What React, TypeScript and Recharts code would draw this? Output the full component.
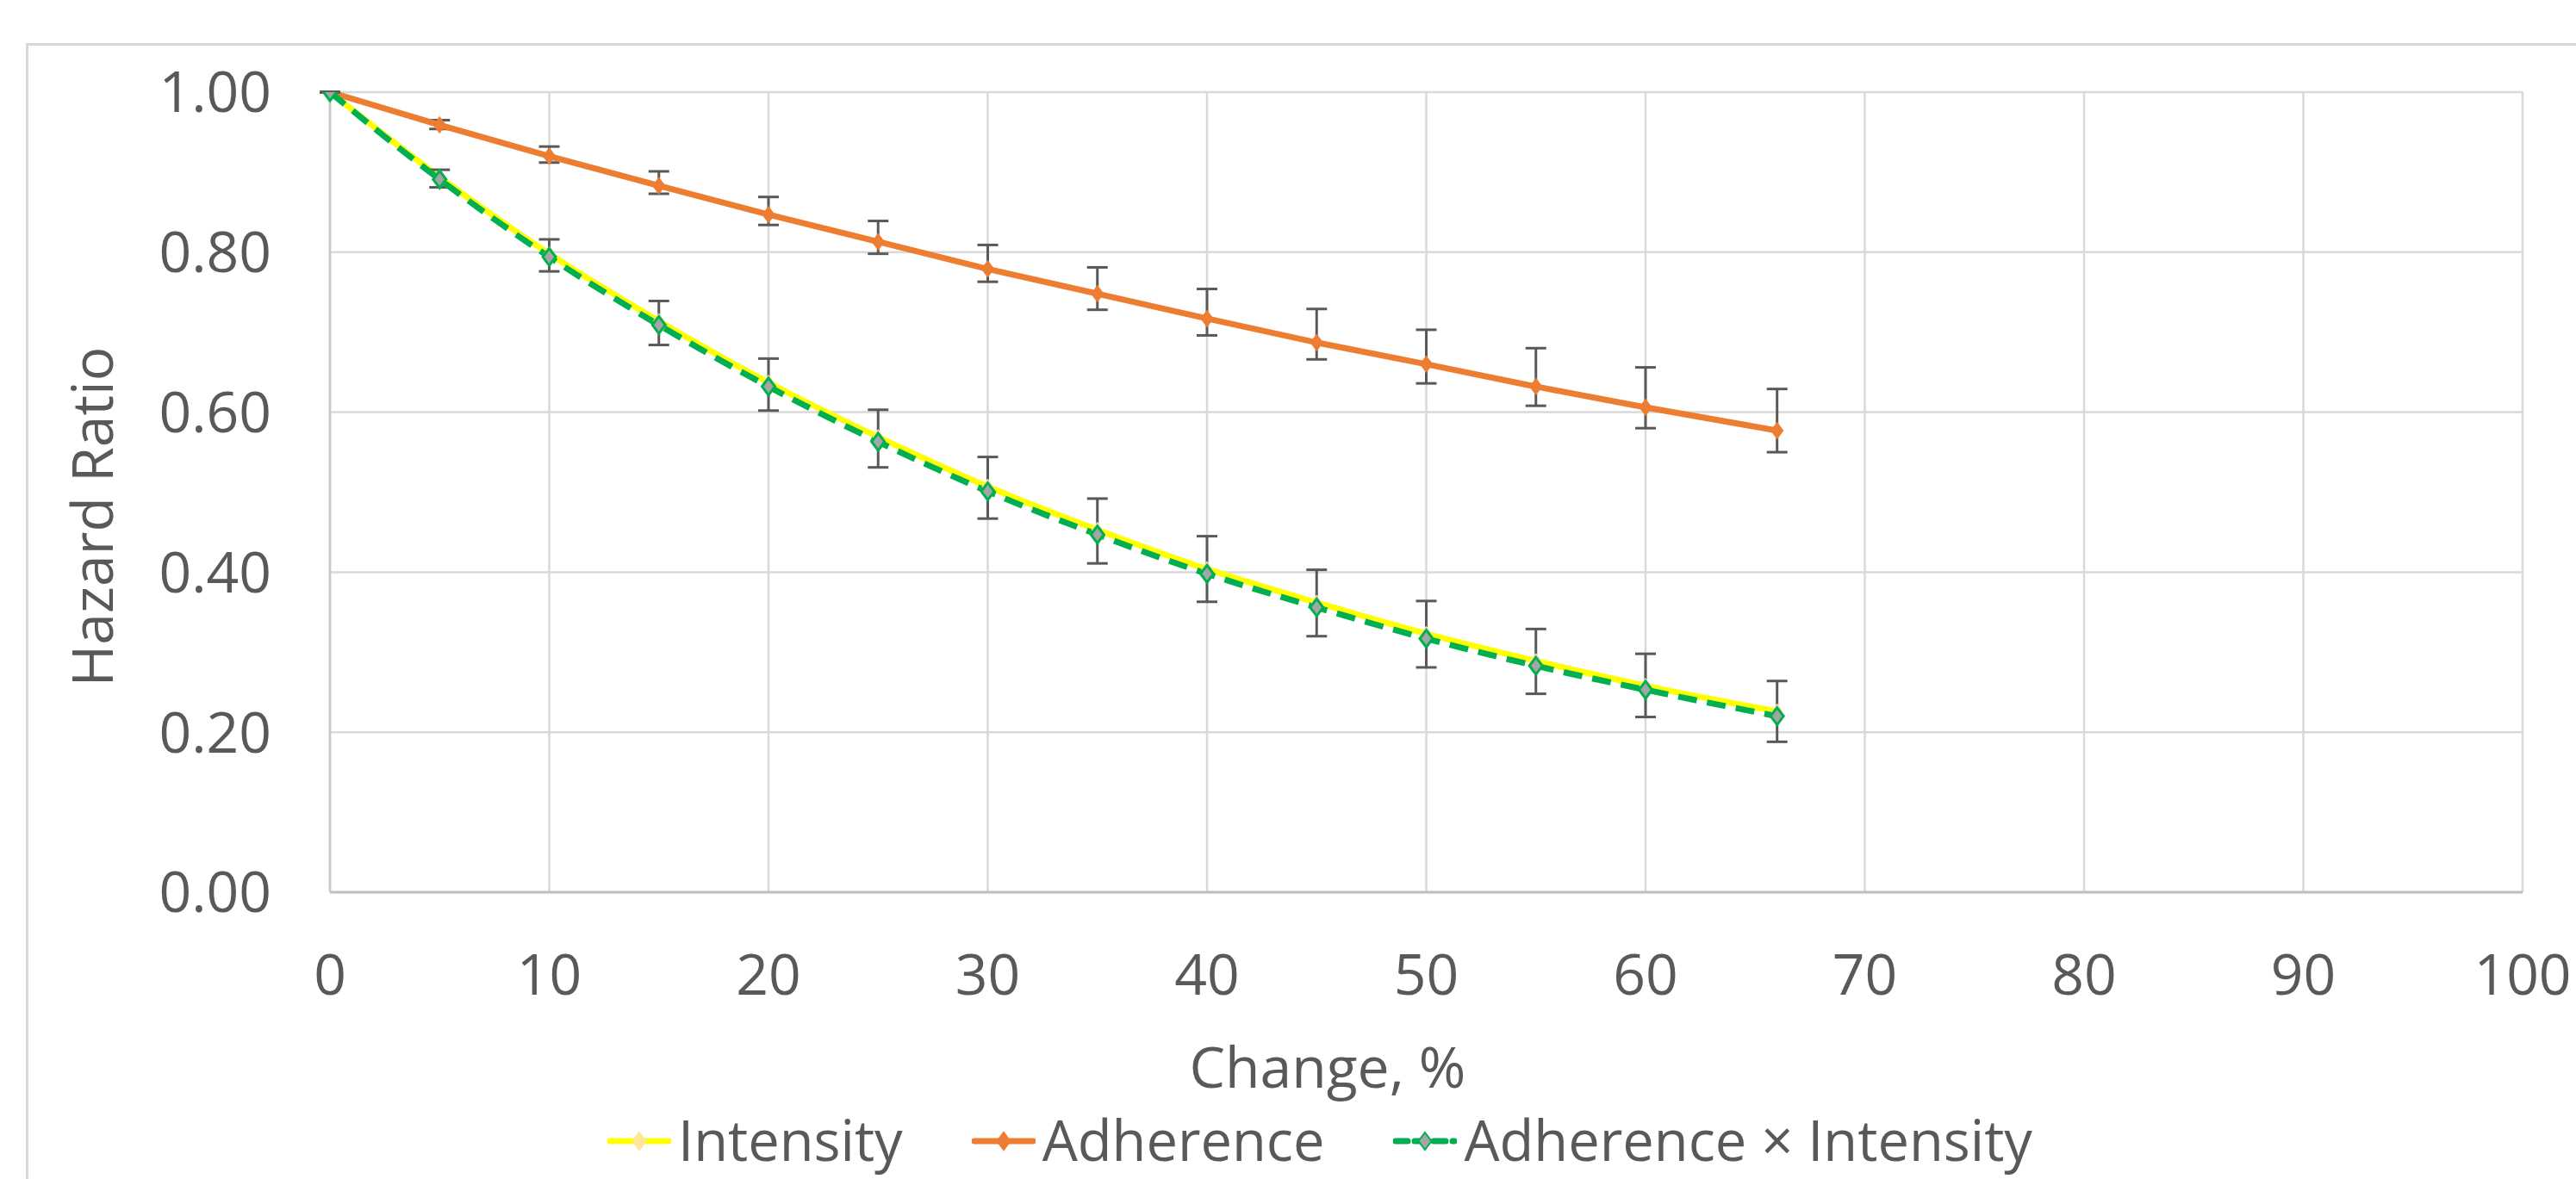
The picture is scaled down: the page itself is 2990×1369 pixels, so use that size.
import React from 'react';
import {
  LineChart,
  Line,
  XAxis,
  YAxis,
  CartesianGrid,
  Legend,
  ErrorBar,
} from 'recharts';

// Change, % (x positions of the points)
const changePct = [0, 5, 10, 15, 20, 25, 30, 35, 40, 45, 50, 55, 60, 66];

// Hazard ratios
const intensityHR = [1.0, 0.894, 0.798, 0.714, 0.637, 0.569, 0.507, 0.453, 0.404, 0.362, 0.323, 0.289, 0.258, 0.226];
const adherenceHR = [1.0, 0.959, 0.92, 0.883, 0.847, 0.813, 0.779, 0.748, 0.717, 0.687, 0.66, 0.632, 0.606, 0.577];
const adherenceLow = [1.0, 0.954, 0.912, 0.873, 0.834, 0.798, 0.763, 0.728, 0.696, 0.666, 0.636, 0.608, 0.58, 0.55];
const adherenceHigh = [1.0, 0.965, 0.932, 0.901, 0.869, 0.839, 0.809, 0.781, 0.754, 0.729, 0.703, 0.68, 0.656, 0.629];
const comboHR = [1.0, 0.891, 0.794, 0.709, 0.632, 0.563, 0.501, 0.447, 0.398, 0.356, 0.317, 0.283, 0.253, 0.22];
const comboLow = [1.0, 0.881, 0.776, 0.684, 0.602, 0.531, 0.467, 0.411, 0.363, 0.32, 0.281, 0.248, 0.219, 0.188];
const comboHigh = [1.0, 0.903, 0.816, 0.739, 0.667, 0.603, 0.544, 0.492, 0.445, 0.403, 0.364, 0.329, 0.298, 0.264];

const xTicks = [0, 10, 20, 30, 40, 50, 60, 70, 80, 90, 100];
const yTicks = [0, 0.2, 0.4, 0.6, 0.8, 1.0];

const seriesNames = ['Intensity', 'Adherence', 'Adherence × Intensity'];

const FONT = "'Open Sans', sans-serif";
const TEXT = '#595959';
const GRID = '#d9d9d9';

const YELLOW = '#ffff00';
const ORANGE = '#ed7d31';
const GREEN = '#00b050';

// error bars want [below, above] deltas
const data = changePct.map((x, i) => ({
  x,
  intensity: intensityHR[i],
  adherence: adherenceHR[i],
  adherenceErr: [
    +(adherenceHR[i] - adherenceLow[i]).toFixed(3),
    +(adherenceHigh[i] - adherenceHR[i]).toFixed(3),
  ],
  combo: comboHR[i],
  comboErr: [
    +(comboHR[i] - comboLow[i]).toFixed(3),
    +(comboHigh[i] - comboHR[i]).toFixed(3),
  ],
}));

const diamondPath = (cx: number, cy: number, r: number) =>
  `M${cx},${cy - r}L${cx + r * 0.75},${cy}L${cx},${cy + r}L${cx - r * 0.75},${cy}Z`;

const makeDot = (fill: string, stroke: string, r: number, sw: number) => (props: any) => {
  const { cx, cy, index } = props;
  if (cx == null || cy == null) return <g key={`e-${index}`} />;
  return (
    <path
      key={`d-${index}`}
      d={diamondPath(cx, cy, r)}
      fill={fill}
      stroke={stroke}
      strokeWidth={sw}
    />
  );
};

const legendItems = [
  { name: seriesNames[0], color: YELLOW, fill: '#ffe699', stroke: '#ffe699', dash: undefined },
  { name: seriesNames[1], color: ORANGE, fill: ORANGE, stroke: ORANGE, dash: undefined },
  { name: seriesNames[2], color: GREEN, fill: '#a5a5a5', stroke: GREEN, dash: '14 8' },
];

const renderLegend = () => (
  <div style={{ display: 'flex', alignItems: 'center', fontFamily: FONT, fontSize: 65, color: TEXT }}>
    {legendItems.map((it, i) => (
      <div
        key={it.name}
        style={{ display: 'flex', alignItems: 'center', marginLeft: i === 0 ? 0 : 80 }}
      >
        <svg width={74} height={30} style={{ marginRight: 8 }}>
          <line
            x1={3}
            y1={15}
            x2={71}
            y2={15}
            stroke={it.color}
            strokeWidth={7}
            strokeLinecap="round"
            strokeDasharray={it.dash}
          />
          <path d={diamondPath(37, 15, 10)} fill={it.fill} stroke={it.stroke} strokeWidth={2} />
        </svg>
        <span style={{ lineHeight: '66px', position: 'relative', top: -2 }}>{it.name}</span>
      </div>
    ))}
  </div>
);

const YTitle = () => (
  <text
    x={131}
    y={600}
    transform="rotate(-90 131 600)"
    textAnchor="middle"
    fontFamily={FONT}
    fontSize={66}
    fill={TEXT}
  >
    Hazard Ratio
  </text>
);

const XTitle = () => (
  <text x={1541} y={1263} textAnchor="middle" fontFamily={FONT} fontSize={66} fill={TEXT}>
    Change, %
  </text>
);

export default function App() {
  return (
    <div
      style={{
        position: 'absolute',
        left: 0,
        top: 0,
        width: 2990,
        height: 1369,
        overflow: 'hidden',
        background: '#ffffff',
      }}
    >
      {/* chart area frame, cut off on the right and bottom like the original */}
      <div
        style={{
          position: 'absolute',
          left: 30,
          top: 50,
          width: 3100,
          height: 1500,
          borderLeft: `3px solid ${GRID}`,
          borderTop: `3px solid ${GRID}`,
        }}
      />
      <LineChart
        width={2990}
        height={1369}
        data={data}
        margin={{ top: 107, right: 62, bottom: 233, left: 83 }}
        style={{ position: 'absolute', left: 0, top: 0 }}
      >
        <CartesianGrid stroke={GRID} strokeWidth={2.5} />
        <XAxis
          dataKey="x"
          type="number"
          domain={[0, 100]}
          ticks={xTicks}
          height={100}
          interval={0}
          tickLine={false}
          tickSize={0}
          tickMargin={72}
          axisLine={{ stroke: '#bfbfbf', strokeWidth: 3 }}
          tick={{ fill: TEXT, fontSize: 66, fontFamily: FONT }}
          label={XTitle}
        />
        <YAxis
          type="number"
          domain={[0, 1]}
          ticks={yTicks}
          width={300}
          interval={0}
          allowDataOverflow
          tickLine={false}
          tickSize={0}
          tickMargin={68}
          axisLine={{ stroke: '#c8c8c8', strokeWidth: 2.5 }}
          tick={{ fill: TEXT, fontSize: 66, fontFamily: FONT }}
          tickFormatter={(v: number) => v.toFixed(2)}
          label={YTitle}
        />
        <Legend
          layout="horizontal"
          verticalAlign="middle"
          align="center"
          content={renderLegend}
          wrapperStyle={{ left: 705, top: 1292, width: 2200, height: 70 }}
        />
        <Line
          type="monotone"
          dataKey="intensity"
          name={seriesNames[0]}
          stroke={YELLOW}
          strokeWidth={7}
          dot={makeDot('#ffe699', '#ffe699', 8, 1.5)}
          isAnimationActive={false}
        />
        <Line
          type="linear"
          dataKey="adherence"
          name={seriesNames[1]}
          stroke={ORANGE}
          strokeWidth={7}
          dot={makeDot(ORANGE, ORANGE, 9, 1.5)}
          isAnimationActive={false}
        >
          <ErrorBar
            dataKey="adherenceErr"
            direction="y"
            width={12}
            strokeWidth={3}
            stroke="#595959"
            isAnimationActive={false}
          />
        </Line>
        <Line
          type="monotone"
          dataKey="combo"
          name={seriesNames[2]}
          stroke={GREEN}
          strokeWidth={7}
          strokeDasharray="22 12"
          dot={makeDot('#a5a5a5', GREEN, 10, 3)}
          isAnimationActive={false}
        >
          <ErrorBar
            dataKey="comboErr"
            direction="y"
            width={12}
            strokeWidth={3}
            stroke="#595959"
            isAnimationActive={false}
          />
        </Line>
      </LineChart>
    </div>
  );
}
